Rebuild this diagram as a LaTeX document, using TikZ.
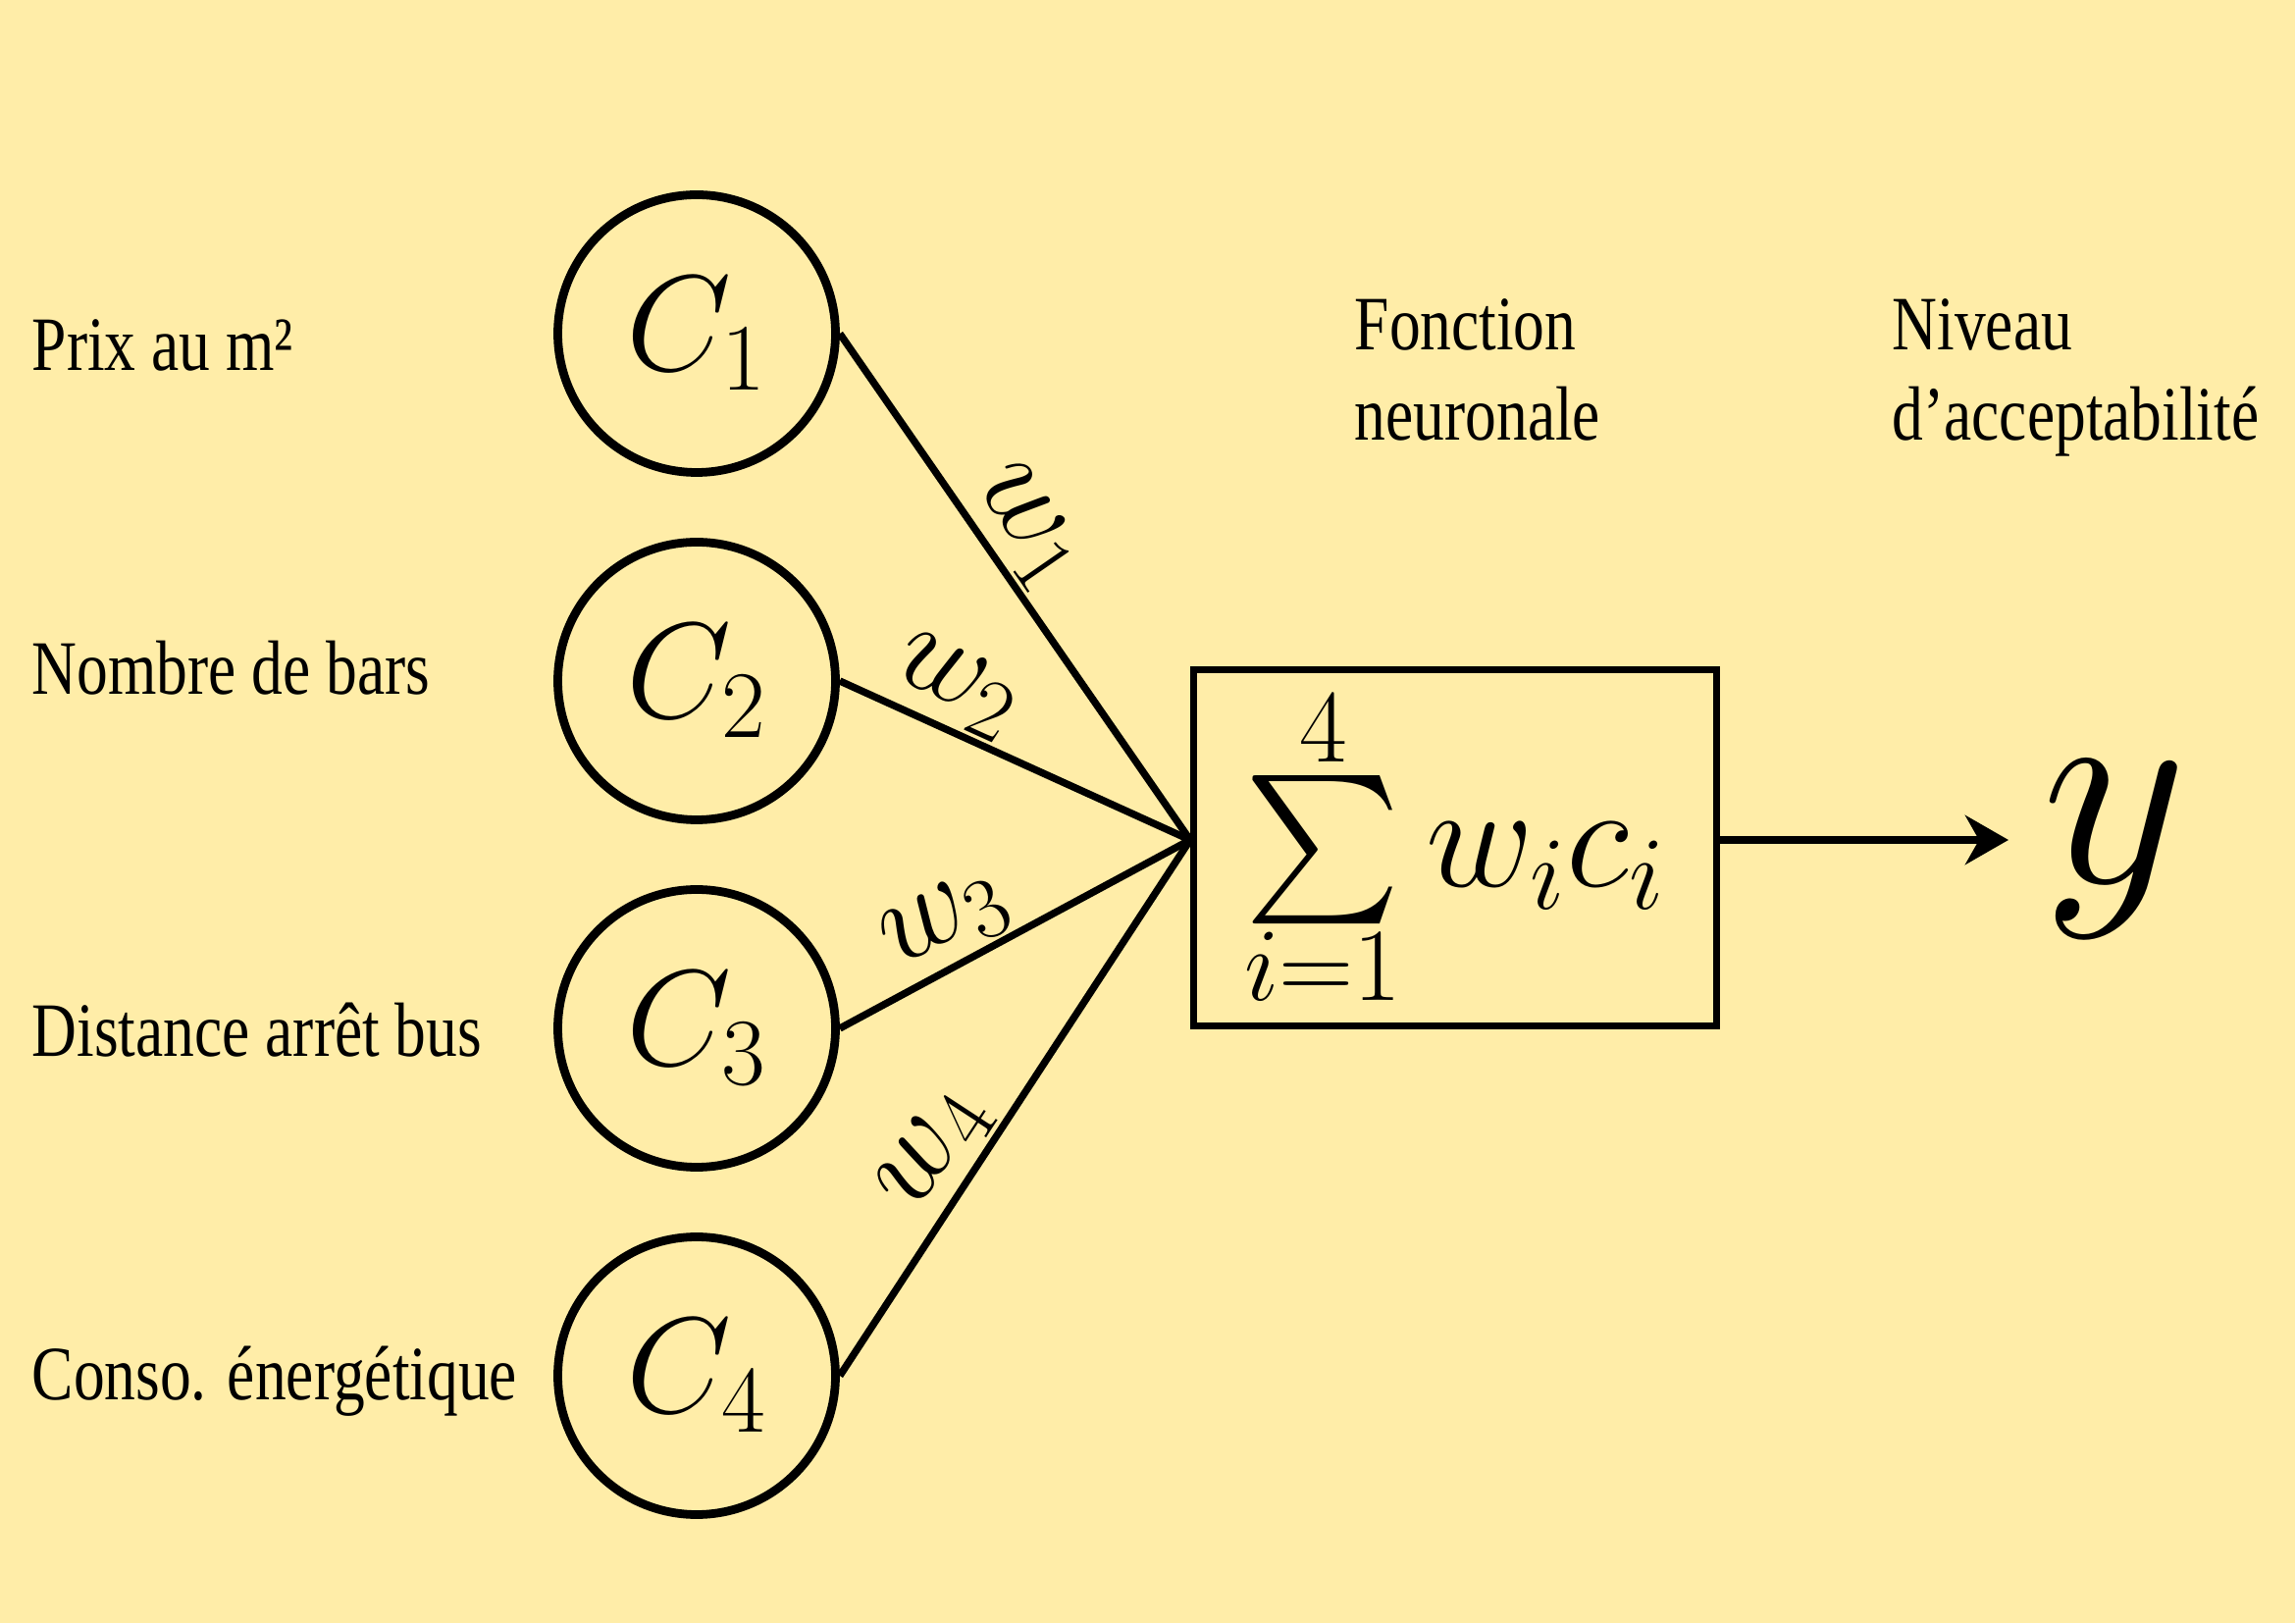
\documentclass[tikz,border=0pt]{standalone}
\usepackage{fix-cm}
\usepackage{fontspec}
\setmainfont[FakeStretch=0.81]{Liberation Serif}
\usetikzlibrary{arrows.meta}
\DeclareFontShape{OMX}{cmex}{m}{n}{<-> cmex10}{}

% limites plus proches du signe somme
\newcommand{\limserrees}{\fontdimen9\textfont3=0.09em \fontdimen10\textfont3=0.05em
  \fontdimen11\textfont3=0.09em \fontdimen12\textfont3=0.52em}

\definecolor{fond}{HTML}{FFEDA8}

\tikzset{
  entree/.style={circle, draw, line width=2.5pt, minimum size=2.83cm, inner sep=0pt,
    font=\fontsize{39.5}{47}\selectfont},
  poids/.style={sloped, above, inner sep=1pt, font=\fontsize{36}{42}\selectfont},
  lien/.style={line width=2.1pt},
  critere/.style={anchor=base west, inner sep=0pt, font=\fontsize{22.3}{26.4}\selectfont},
}

\begin{document}
\begin{tikzpicture}

\fill[fond] (0,0) rectangle (23.39,16.54);
\useasboundingbox (0,0) rectangle (23.39,16.54);

% criteres
\node[critere] (t1) at (0.32,12.76) {Prix au m²};
\node[critere] (t2) at (0.32,9.46) {Nombre de bars};
\node[critere] (t3) at (0.32,5.77) {Distance arrêt bus};
\node[critere] (t4) at (0.32,2.28) {Conso. énergétique};

% entrees
\node[entree] (C1) at (7.10,13.14) {$C_1$};
\node[entree] (C2) at (7.10,9.60) {$C_2$};
\node[entree] (C3) at (7.10,6.06) {$C_3$};
\node[entree] (C4) at (7.10,2.52) {$C_4$};

% neurone
\node[draw, line width=1.9pt, minimum width=5.335cm, minimum height=3.625cm, inner sep=0pt,
  font=\fontsize{43}{52}\selectfont] (somme) at (14.83,7.90)
  {$\limserrees\sum\limits_{i=1}^{4} w_i c_i$};
\coordinate (entre) at ([yshift=0.8mm]somme.west);
\coordinate (sortie) at ([yshift=0.8mm]somme.east);

\draw[lien] (C1.east) -- node[poids, pos=0.43] {$w_1$} (entre);
\draw[lien] (C2.east) -- node[poids, pos=0.28] {$w_2$} (entre);
\draw[lien] (C3.east) -- node[poids, pos=0.36] {$w_3$} (entre);
\draw[lien] (C4.east) -- node[poids, pos=0.375] {$w_4$} (entre);

% sortie
\node[inner sep=0pt, anchor=base west, font=\fontsize{82}{92}\selectfont] (y) at (20.81,7.54) {$y$};
\coordinate (bout) at (20.47,7.98);
\draw[line width=2.2pt, -{Stealth[length=4.4mm,width=5mm,inset=1.4mm]}] (sortie) -- (bout);

% titres
\node[critere, align=left] (f) at (13.80,12.05) {Fonction\\neuronale};
\node[critere, align=left] (n) at (19.28,12.05) {Niveau\\d’acceptabilité};

\end{tikzpicture}
\end{document}
